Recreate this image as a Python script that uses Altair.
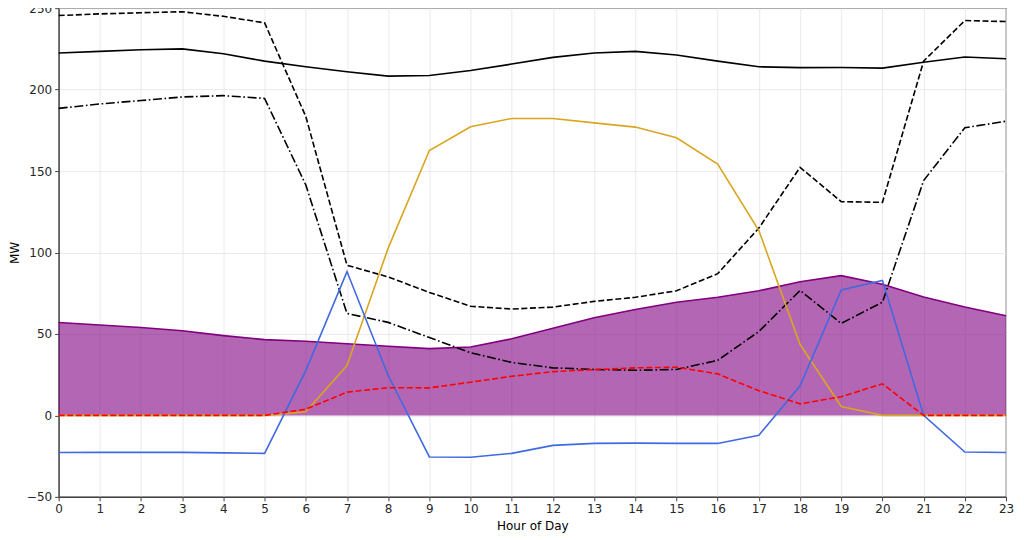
import altair as alt
import pandas as pd

hours = list(range(24))

purple_area = [57, 55.5, 54, 52, 49, 46.5, 45.5, 44, 42.5, 41, 42, 47, 53.5, 60,
               65, 69.5, 72.5, 76.5, 82, 85.8, 80.5, 72.7, 66.6, 61.2]
black_solid = [222.5, 223.5, 224.5, 225, 222, 217.5, 214, 211, 208.3, 208.7, 211.7, 215.7,
               219.8, 222.5, 223.5, 221.3, 217.5, 214, 213.5, 213.6, 213.2, 216.8, 220, 219]
black_dashed = [245.5, 246.5, 247.2, 247.8, 245, 241, 183.5, 92.2, 85, 75.5, 67, 65.3,
                66.5, 70, 72.5, 76.5, 87, 115, 152.3, 131.2, 130.8, 217.5, 242.4, 241.8]
black_dashdot = [188.5, 191.2, 193.3, 195.5, 196.3, 194.6, 141.5, 62.6, 57.1, 47.8, 38.5, 32.5,
                 29.2, 28.2, 27.7, 28.2, 33.8, 51.5, 76.7, 56.5, 69.5, 144.2, 176.6, 180.6]
orange = [0, 0, 0, 0, 0, 0, 2.2, 30.6, 102.7, 162.6, 177.2, 182.3,
          182.3, 179.6, 177, 170.4, 154.3, 113.5, 43.5, 5.5, 0, 0, 0, 0]
blue = [-22.8, -22.7, -22.7, -22.7, -23, -23.3, 27.5, 88.3, 24.5, -25.5, -25.7, -23.3,
        -18.4, -17.2, -17, -17.2, -17.2, -12.2, 18.2, 77, 82.8, 0, -22.5, -22.8]
red_dashed = [0, 0, 0, 0, 0, 0, 3.8, 14.3, 17, 16.9, 20.4, 24,
              26.9, 28.1, 29.2, 29.6, 25.5, 15.2, 7.1, 11.5, 19.4, 0, 0, 0]

x_ticks = list(range(24))
y_ticks = [-50, 0, 50, 100, 150, 200, 250]

FONT = "DejaVu Sans"

def frame(values):
    return pd.DataFrame({"hour": hours, "mw": values})

x_enc = alt.X("hour:Q", title="Hour of Day",
              scale=alt.Scale(domain=[0, 23], nice=False, zero=False),
              axis=alt.Axis(values=x_ticks, format="d", labelFlush=False))
y_enc = alt.Y("mw:Q", title="MW",
              scale=alt.Scale(domain=[-50, 250], nice=False, zero=False),
              axis=alt.Axis(values=y_ticks, format="d"))

area = alt.Chart(frame(purple_area)).mark_area(
    color="purple", opacity=0.6, line=False
).encode(x=x_enc, y=y_enc, y2=alt.datum(0))

area_line = alt.Chart(frame(purple_area)).mark_line(
    color="purple", strokeWidth=1.6
).encode(x="hour:Q", y="mw:Q")

def line(values, color, dash=None, width=1.6):
    kw = dict(color=color, strokeWidth=width)
    if dash is not None:
        kw["strokeDash"] = dash
    return alt.Chart(frame(values)).mark_line(**kw).encode(x="hour:Q", y="mw:Q")

layers = [
    area,
    area_line,
    line(black_solid, "black"),
    line(black_dashed, "black", [6, 2.6]),
    line(black_dashdot, "black", [9, 2.6, 1.6, 2.6]),
    line(orange, "goldenrod"),
    line(blue, "royalblue"),
    line(red_dashed, "red", [6, 2.6]),
]

chart = alt.layer(*layers).properties(
    width=948, height=489,
    autosize=alt.AutoSizeParams(type="none"),
    padding={"left": 50.7, "top": 0, "right": 10, "bottom": 40},
).configure_view(
    stroke="#444444", strokeWidth=1.2
).configure_axis(
    grid=True, gridColor="#e4e4e4", gridWidth=0.8,
    domain=True, domainColor="#444444", domainWidth=1.2,
    ticks=True, tickColor="#444444", tickSize=4, tickWidth=1,
    labelFont=FONT, labelFontSize=12, labelColor="#262626", labelPadding=3,
    titleFont=FONT, titleFontSize=12, titleFontWeight="normal", titleColor="black",
).configure_axisX(
    titlePadding=6,
).configure_axisY(
    titlePadding=5,
)

chart.save("out.html", embed_options={"renderer": "svg", "actions": False})
